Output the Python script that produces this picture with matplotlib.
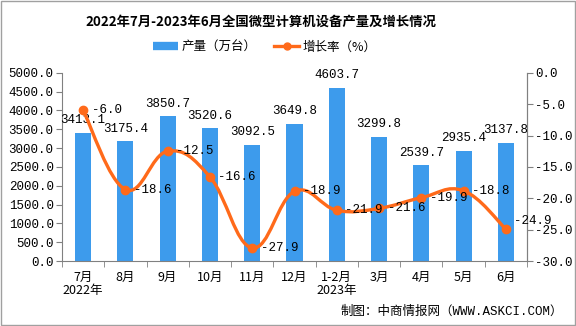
import numpy as np
import matplotlib
matplotlib.use("Agg")
import matplotlib.pyplot as plt
from matplotlib.path import Path
from matplotlib.patches import PathPatch, Rectangle
from matplotlib.lines import Line2D

plt.rcParams["font.family"] = ["Liberation Mono", "Noto Sans CJK SC", "DejaVu Sans"]

months = ["7月\n2022年", "8月", "9月", "10月", "11月", "12月", "1-2月\n2023年",
          "3月", "4月", "5月", "6月"]
output = [3413.1, 3175.4, 3850.7, 3520.6, 3092.5, 3649.8, 4603.7,
          3299.8, 2539.7, 2935.4, 3137.8]
growth = [-6.0, -18.6, -12.5, -16.6, -27.9, -18.9, -21.9,
          -21.6, -19.9, -18.8, -24.9]

BLUE = "#3d9bec"
ORANGE = "#ff6a1a"
CJK = ["Noto Sans CJK SC", "DejaVu Sans"]


def smooth_path(xs, ys, t=0.2):
    # cubic bezier through the points, catmull-rom style tangents
    verts = [(xs[0], ys[0])]
    codes = [Path.MOVETO]
    n = len(xs)
    for i in range(n - 1):
        x0, y0 = xs[max(i - 1, 0)], ys[max(i - 1, 0)]
        x1, y1 = xs[i], ys[i]
        x2, y2 = xs[i + 1], ys[i + 1]
        x3, y3 = xs[min(i + 2, n - 1)], ys[min(i + 2, n - 1)]
        c1 = (x1 + (x2 - x0) * t, y1 + (y2 - y0) * t)
        c2 = (x2 - (x3 - x1) * t, y2 - (y3 - y1) * t)
        verts += [c1, c2, (x2, y2)]
        codes += [Path.CURVE4] * 3
    return Path(verts, codes)


fig = plt.figure(figsize=(5.76, 3.26), dpi=100)
ax = fig.add_axes([0.1076, 0.199, 0.8074, 0.578])
ax2 = ax.twinx()

x = np.arange(len(months))
ax.bar(x, output, width=0.38, color=BLUE, zorder=2)
for xi, v in zip(x, output):
    ax.text(xi, v + 170, f"{v:.1f}", ha="center", va="bottom", fontsize=9)

ax.set_xlim(-0.5, len(months) - 0.5)
ax.set_ylim(0, 5000)
ax.set_yticks(np.arange(0, 5001, 500))
ax.set_yticklabels([f"{v:.1f}" for v in np.arange(0, 5001, 500)], fontsize=9)
ax.set_xticks(x)
ax.set_xticklabels(months, fontsize=9, family=CJK, linespacing=1.05)
ax.set_xticks(np.arange(-0.5, len(months), 1), minor=True)
ax.tick_params(axis="x", which="major", length=0, pad=7)
ax.tick_params(axis="x", which="minor", length=4, color="#808080")
ax.tick_params(axis="y", length=4, color="#808080", pad=2)

ax2.set_ylim(-30, 0)
ax2.set_yticks(np.arange(-30, 1, 5))
ax2.set_yticklabels([f"{v:.1f}" for v in np.arange(-30, 1, 5)], fontsize=9)
ax2.tick_params(axis="y", length=4, color="#808080", pad=2)

ax2.add_patch(PathPatch(smooth_path(x, growth), facecolor="none",
                        edgecolor=ORANGE, lw=2.4, zorder=3))
ax2.plot(x, growth, "o", color=ORANGE, markersize=6, zorder=4)
nudge = [0, 0, 0, 0, 0, 0, 0, 0, 0, 0, 1.3]
for xi, v, dy in zip(x, growth, nudge):
    ax2.text(xi + 0.2, v + dy, f"{v:.1f}", ha="left", va="center", fontsize=9, zorder=5)

for a in (ax, ax2):
    a.spines["top"].set_visible(False)
    for s in ("left", "right", "bottom"):
        a.spines[s].set_color("#808080")
ax2.spines["left"].set_visible(False)
ax2.spines["bottom"].set_visible(False)

fig.text(0.453, 0.933, "2022年7月-2023年6月全国微型计算机设备产量及增长情况",
         ha="center", va="center", fontsize=9.6, fontweight="bold", family=CJK)

handles = [Line2D([], [], color=BLUE, lw=6, solid_capstyle="butt"),
           Line2D([], [], color=ORANGE, lw=2.4, marker="o", markersize=5)]
fig.legend(handles, ["产量（万台）", "增长率（%）"], loc="center",
           bbox_to_anchor=(0.46, 0.856), ncol=2, frameon=False,
           prop={"family": CJK, "size": 9}, handlelength=2.0,
           columnspacing=1.4, handletextpad=0.3)

fig.text(0.977, 0.043, "制图：中商情报网（WWW.ASKCI.COM）", ha="right", va="center",
         fontsize=9)

fig.add_artist(Rectangle((0.001, 0.002), 0.997, 0.996, transform=fig.transFigure,
                         fill=False, edgecolor="#a0a0a0", lw=1))

fig.savefig("out.png", dpi=100)
